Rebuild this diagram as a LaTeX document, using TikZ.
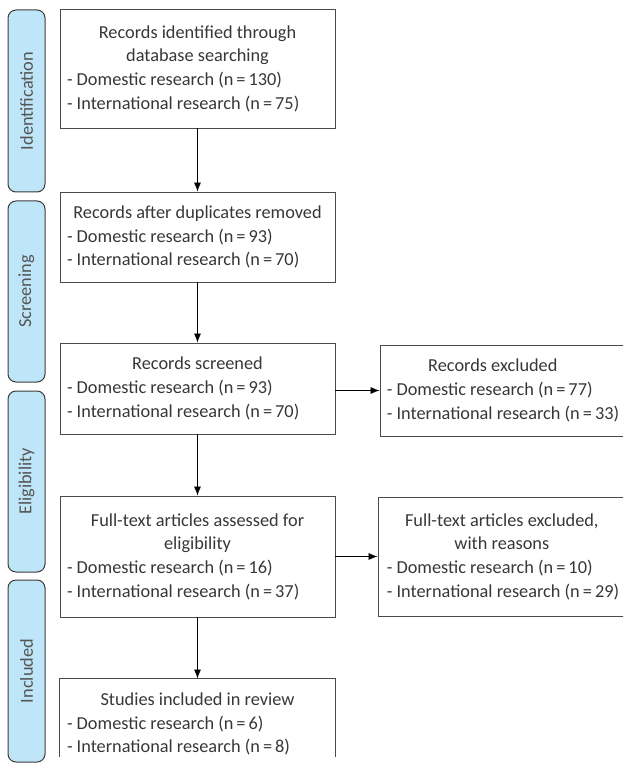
\documentclass[tikz,border=0pt]{standalone}
\usepackage{fontspec}
\setmainfont{Carlito}
\usetikzlibrary{arrows.meta}
\definecolor{txt}{RGB}{55,55,55}
\definecolor{tabtxt}{RGB}{85,85,85}
\definecolor{tabfill}{RGB}{190,229,248}
\definecolor{bord}{RGB}{75,75,75}
\definecolor{tabbord}{RGB}{60,60,60}
\begin{document}
\begin{tikzpicture}[x=1pt,y=-1pt,
  box/.style={draw=bord, line width=0.9pt, inner sep=0pt, text=txt, align=left,
    font=\fontsize{18.3}{23.7}\selectfont},
  openbox/.style={box, draw=none},
  tab/.style={draw=tabbord, fill=tabfill, rounded corners=8pt, line width=1pt,
    inner sep=0pt, text=tabtxt, rotate=90, minimum height=37pt,
    font=\fontsize{18.3}{20}\selectfont},
  arr/.style={-{Latex[length=9pt,width=7pt]}, line width=0.8pt, black}]
\useasboundingbox (0,0) rectangle (623,767);
\clip (0,0) rectangle (623,767);

% side tabs
\node[tab, minimum width=182pt] (tid) at (26.5,101) {Identification};
\node[tab, minimum width=181pt] (tsc) at (26.5,291.5) {Screening};
\node[tab, minimum width=181pt] (tel) at (26.5,481.5) {Eligibility};
\node[tab, minimum width=182pt] (tin) at (26.5,671) {Included};

% main column
\node[box, minimum width=275pt, minimum height=119pt] (b1) at (197.5,68.5)
  {\makebox[261pt]{Records identified through}\\\makebox[261pt]{database searching}\\- Domestic research (n\,=\,130)\\- International research (n\,=\,75)};
\node[box, minimum width=275pt, minimum height=90pt] (b2) at (197.5,237)
  {\makebox[261pt]{Records after duplicates removed}\\- Domestic research (n\,=\,93)\\- International research (n\,=\,70)};
\node[box, minimum width=275pt, minimum height=91pt] (b3) at (197.5,388.5)
  {\makebox[261pt]{Records screened}\\- Domestic research (n\,=\,93)\\- International research (n\,=\,70)};
\node[box, minimum width=275pt, minimum height=121pt] (b4) at (197.5,556.5)
  {\makebox[261pt]{Full-text articles assessed for}\\\makebox[261pt]{eligibility}\\- Domestic research (n\,=\,16)\\- International research (n\,=\,37)};
\node[openbox, minimum width=275pt, minimum height=90pt] (b5) at (197.5,724)
  {\makebox[261pt]{Studies included in review}\\- Domestic research (n\,=\,6)\\- International research (n\,=\,8)};
\draw[draw=bord, line width=0.9pt] ([yshift=12pt]b5.south west) -- (b5.north west)
  -- (b5.north east) -- ([yshift=12pt]b5.south east);

% exclusion boxes
\node[box, minimum width=246pt, minimum height=91pt] (e1) at (503,390.5)
  {\makebox[212pt]{Records excluded}\\- Domestic research (n\,=\,77)\\- International research (n\,=\,33)};
\node[box, minimum width=250pt, minimum height=119pt] (e2) at (503,556.5)
  {\makebox[230pt]{Full-text articles excluded,}\\\makebox[230pt]{with reasons}\\- Domestic research (n\,=\,10)\\- International research (n\,=\,29)};

% connectors
\draw[arr] (b1.south) -- (b2.north);
\draw[arr] (b2.south) -- (b3.north);
\draw[arr] (b3.south) -- (b4.north);
\draw[arr] (b4.south) -- (b5.north);
\draw[arr] (b3.east |- e1.west) -- (e1.west);
\draw[arr] (b4.east) -- (e2.west);
\end{tikzpicture}
\end{document}
